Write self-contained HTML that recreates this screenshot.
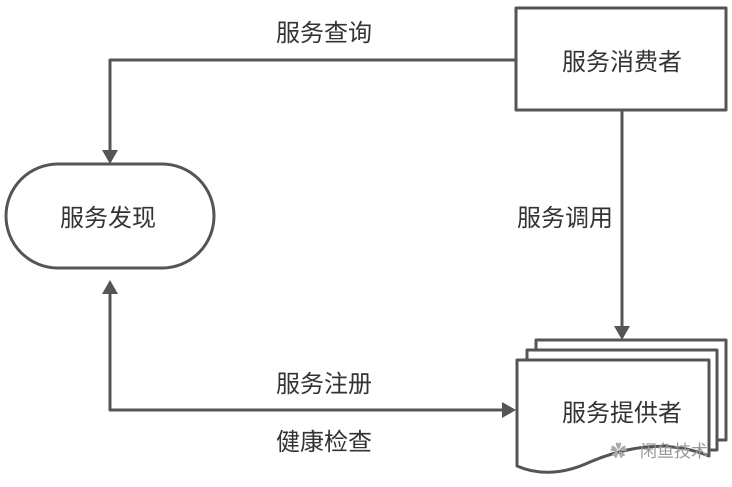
<!DOCTYPE html>
<html><head><meta charset="utf-8"><style>
html,body{margin:0;padding:0;background:#fff;}
svg text{font-family:"Liberation Sans","Noto Sans CJK SC",sans-serif;font-size:24px;fill:#333;}
</style></head><body>
<svg width="732" height="482" viewBox="0 0 732 482" xmlns="http://www.w3.org/2000/svg">
<g fill="none" stroke="#555" stroke-width="3" stroke-linejoin="round">
<polyline points="516,60 110,60 110,152"/>
<rect x="516" y="8" width="210" height="102" fill="#fff"/>
<rect x="6" y="164" width="208" height="104" rx="52" fill="#fff"/>
<line x1="622" y1="110" x2="622" y2="328"/>
<polyline points="110,292 110,410 504,410"/>
<path d="M536,360 V340 H726 V440 H717" fill="#fff"/>
<path d="M527,370 V350 H717 V450 H709" fill="#fff"/>
<path d="M517,360 H709 V456 C670,440 630,445 590,462 C560,476 535,474 517,466 Z" fill="#fff"/>
</g>
<g fill="#555">
<polygon points="102,150 118,150 110,164"/>
<polygon points="102,294 118,294 110,280"/>
<polygon points="614,326 630,326 622,340"/>
<polygon points="502,402 502,418 516,410"/>
</g>
<text x="276" y="41">服务查询</text>
<text x="562" y="70">服务消费者</text>
<text x="60" y="226">服务发现</text>
<text x="517" y="226">服务调用</text>
<text x="276" y="392">服务注册</text>
<text x="276" y="450">健康检查</text>
<text x="562" y="421">服务提供者</text>
<text x="640" y="457" style="font-size:17px;fill:#999">闲鱼技术</text>
<text x="610" y="457" style="font-size:17px;fill:#aaa">✿</text>
</svg>
</body></html>
